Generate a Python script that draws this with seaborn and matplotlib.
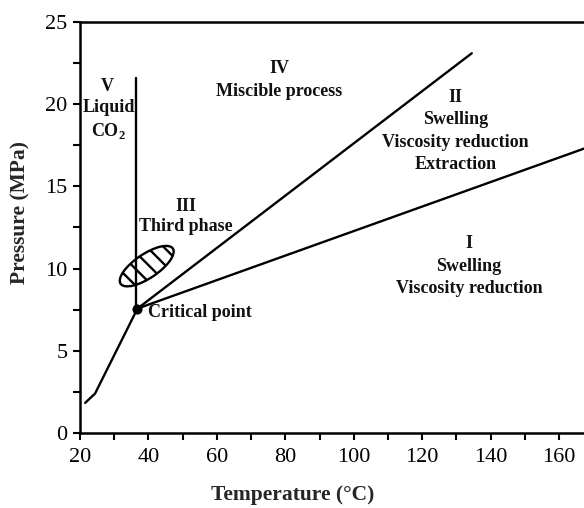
import matplotlib
matplotlib.use("Agg")
import matplotlib.pyplot as plt
import matplotlib.transforms as mtransforms
from matplotlib.patches import Ellipse
from matplotlib.ticker import MultipleLocator
import seaborn as sns
import pandas as pd

# ---- data ----
vapor_T = [21.5, 24.4, 36.8]
vapor_P = [1.83, 2.40, 7.57]
crit_T, crit_P = 36.8, 7.57
liquid_T = [36.5, 36.5]
liquid_P = [7.57, 21.6]
upper_T = [36.8, 134.5]
upper_P = [7.57, 23.1]
lower_T = [36.8, 172.0]
lower_P = [7.57, 17.65]
ellipse_T, ellipse_P = 39.5, 10.15

region_labels = [
    ("V", 28.0, 21.1), ("Liquid", 28.3, 19.8), ("CO$_{\\mathbf{2}}$", 28.3, 18.4),
    ("IV", 78.2, 22.2), ("Miscible process", 78.2, 20.75),
    ("II", 129.8, 20.4), ("Swelling", 129.8, 19.05),
    ("Viscosity reduction", 129.8, 17.7), ("Extraction", 129.8, 16.35),
    ("III", 51.0, 13.8), ("Third phase", 51.0, 12.55),
    ("I", 133.7, 11.5), ("Swelling", 133.7, 10.1), ("Viscosity reduction", 133.7, 8.8),
]
x_ticks = [20, 40, 60, 80, 100, 120, 140, 160]
y_ticks = [0, 5, 10, 15, 20, 25]

sns.set_theme(style="ticks")
plt.rcParams["font.family"] = ["Liberation Serif", "DejaVu Serif"]
plt.rcParams["mathtext.fontset"] = "custom"
plt.rcParams["mathtext.rm"] = "Liberation Serif:bold"
plt.rcParams["mathtext.bf"] = "Liberation Serif:bold"
plt.rcParams["hatch.linewidth"] = 1.7
plt.rcParams["hatch.color"] = "black"

fig = plt.figure(figsize=(5.84, 5.08), dpi=100)
ax_w = 1 - 80 / 584 + 0.01
ax = fig.add_axes([80 / 584, 1 - 433 / 508, ax_w, (433 - 22) / 508])

lw = 1.7
for T, P in [(vapor_T, vapor_P), (liquid_T, liquid_P), (upper_T, upper_P), (lower_T, lower_P)]:
    sns.lineplot(data=pd.DataFrame({"T": T, "P": P}), x="T", y="P", sort=False,
                 color="black", lw=lw, ax=ax, estimator=None)

sns.scatterplot(x=[crit_T], y=[crit_P], color="black", s=45, ax=ax, zorder=5, edgecolor="black")

# hatched ellipse sized in screen pixels, placed at data position
trans = mtransforms.ScaledTranslation(ellipse_T, ellipse_P, ax.transData)
ell = Ellipse((0, 0), 63, 24, angle=34, facecolor="none", edgecolor="black",
              lw=1.7, hatch="\\\\", transform=trans)
ax.add_patch(ell)

for txt, x, y in region_labels:
    ax.text(x, y, txt, ha="center", va="center", fontsize=13, fontweight="bold", color="#111111")
ax.text(39.8, 7.35, "Critical point", ha="left", va="center", fontsize=13,
        fontweight="bold", color="#111111")

ax.set_xlim(20, 169)
ax.set_ylim(0, 25)
ax.set_xticks(x_ticks)
ax.set_yticks(y_ticks)
ax.xaxis.set_minor_locator(MultipleLocator(10))
ax.yaxis.set_minor_locator(MultipleLocator(2.5))
ax.tick_params(axis="both", which="both", direction="out", length=5, width=1.5,
               colors="black", labelsize=16)
ax.tick_params(axis="x", pad=6)
ax.tick_params(axis="y", pad=4)
ax.set_xlabel("Temperature (°C)", fontsize=15.5, fontweight="bold")
ax.set_ylabel("Pressure (MPa)", fontsize=15.5, fontweight="bold")
ax.xaxis.set_label_coords((293 - 80) / (ax_w * 584), -(495 - 433) / 411, transform=ax.transAxes)
ax.yaxis.set_label_coords(-(80 - 20) / (ax_w * 584), (433 - 213) / 411, transform=ax.transAxes)
ax.xaxis.label.set_va("center")
ax.yaxis.label.set_va("center")
ax.spines["right"].set_visible(False)
for s in ["left", "top", "bottom"]:
    ax.spines[s].set_linewidth(1.8)
    ax.spines[s].set_color("black")
ax.set_facecolor("white")
fig.patch.set_facecolor("white")

fig.savefig("out.png", dpi=100)
